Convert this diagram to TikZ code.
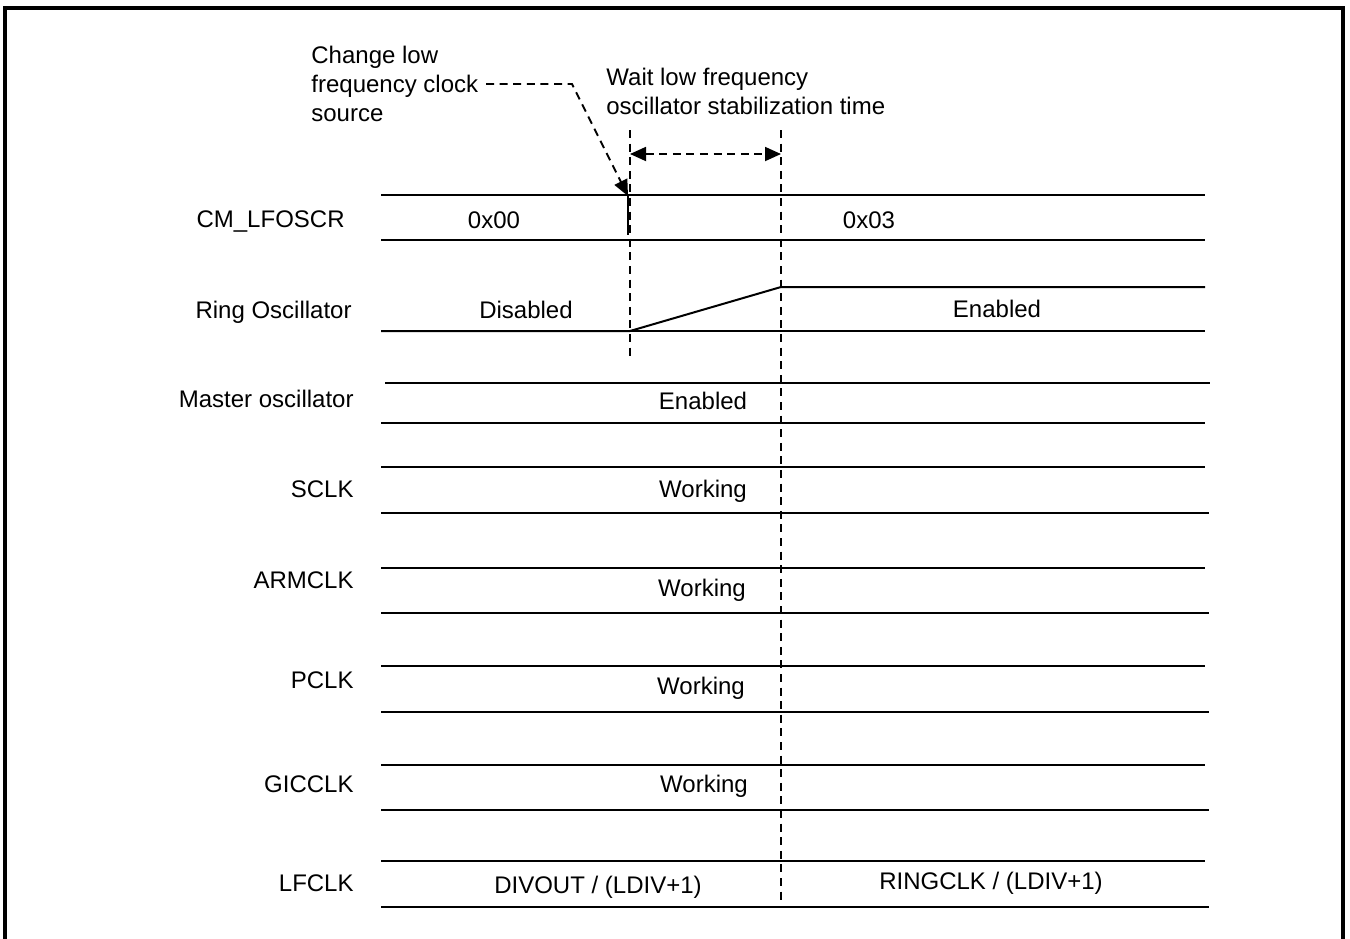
\documentclass[tikz,border=0pt]{standalone}
\usepackage{fontspec}
\setmainfont{Liberation Sans}
\usetikzlibrary{arrows.meta}
\begin{document}
\begin{tikzpicture}[x=0.5pt,y=-0.5pt,
  font=\fontsize{12}{14.5}\selectfont,
  lbl/.style={inner sep=0pt,anchor=mid east,yshift=-1.6pt},
  txt/.style={inner sep=0pt,anchor=mid,yshift=-1.6pt},
  sig/.style={line width=1pt},
  mark2/.style={line width=1.4pt},
  guide/.style={line width=0.9pt,dash pattern=on 4pt off 2.8pt},
  tip/.style={-{Triangle[length=8pt,width=7pt]}},
  frame/.style={line width=1.6pt}]
\useasboundingbox (0,0) rectangle (1350,938);
% frame
\draw[frame] (5,945) -- (5,8) -- (1343,8) -- (1343,945);

% annotations
\node[inner sep=0pt,anchor=north west,align=left] (chg) at (311,46)
  {Change low\\[-0.15pt]frequency clock\\[-0.15pt]source};
\node[inner sep=0pt,anchor=north west,align=left] (wait) at (606,68)
  {Wait low frequency\\[-0.15pt]oscillator stabilization time};

\coordinate (l0) at (486,84);
\coordinate (l1) at (572,84);
\coordinate (l2) at (628,196);
\draw[guide,tip] (l0) -- (l1) -- (l2);

% guide lines
\coordinate (g1t) at (630,130);
\coordinate (g1b) at (630,356);
\coordinate (g2t) at (781,130);
\coordinate (g2b) at (781,902);
\draw[guide] (g1t) -- (g1b);
\draw[guide] (g2t) -- (g2b);
\coordinate (a1) at (630,154);
\coordinate (a2) at (781,154);
\draw[guide,{Triangle[length=8pt,width=7pt]}-{Triangle[length=8pt,width=7pt]}] (a1) -- (a2);

% CM_LFOSCR
\node[lbl] (n1) at (345,219) {CM\_LFOSCR};
\draw[sig] (381,195) coordinate (c1a) -- (1205,195) coordinate (c1b);
\draw[sig] (381,240) coordinate (c1c) -- (1205,240) coordinate (c1d);
\coordinate (w1) at (628,196);
\coordinate (w2) at (628,235);
\draw[line width=1.3pt] (w1) -- (w2);
\node[txt] (v00) at (494,220) {0x00};
\node[txt] (v03) at (869,220) {0x03};

% Ring oscillator
\node[lbl] (n2) at (352,310) {Ring Oscillator};
\draw[sig] (381,331) coordinate (r0) -- (630,331) coordinate (r1) -- (781,287) coordinate (r2) -- (1205,287) coordinate (r3);
\draw[sig] (r1) -- (1205,331) coordinate (r4);
\node[txt] (dis) at (526,310) {Disabled};
\node[txt] (en1) at (997,309) {Enabled};

% Master oscillator
\node[lbl] (n3) at (354,399) {Master oscillator};
\draw[sig] (385,383) coordinate (m0) -- (1210,383) coordinate (m1);
\draw[sig] (381,423) coordinate (m2) -- (1205,423) coordinate (m3);
\node[txt] (en2) at (703,401) {Enabled};

% clocks
\foreach \nm/\ly/\top/\bot/\wx/\wy in {SCLK/489/467/513/703/489, ARMCLK/580/568/613/702/588, PCLK/680/666/712/701/686, GICCLK/784/765/810/704/784}{
  \node[lbl] (lab\nm) at (354,\ly) {\nm};
  \draw[sig] (381,\top) coordinate (t0\nm) -- (1205,\top) coordinate (t1\nm);
  \draw[mark2] (781,\top) coordinate (k0\nm) -- (860,\top) coordinate (k1\nm);
  \draw[sig] (381,\bot) coordinate (b0\nm) -- (1209,\bot) coordinate (b1\nm);
  \node[txt] (wk\nm) at (\wx,\wy) {Working};
}

% LFCLK
\node[lbl] (n8) at (354,883) {LFCLK};
\draw[sig] (381,861) coordinate (f0) -- (1205,861) coordinate (f1);
\draw[sig] (381,907) coordinate (f2) -- (1209,907) coordinate (f3);
\node[txt] (dv) at (598,885) {DIVOUT / (LDIV+1)};
\node[txt] (rg) at (991,881) {RINGCLK / (LDIV+1)};
\end{tikzpicture}
\end{document}
